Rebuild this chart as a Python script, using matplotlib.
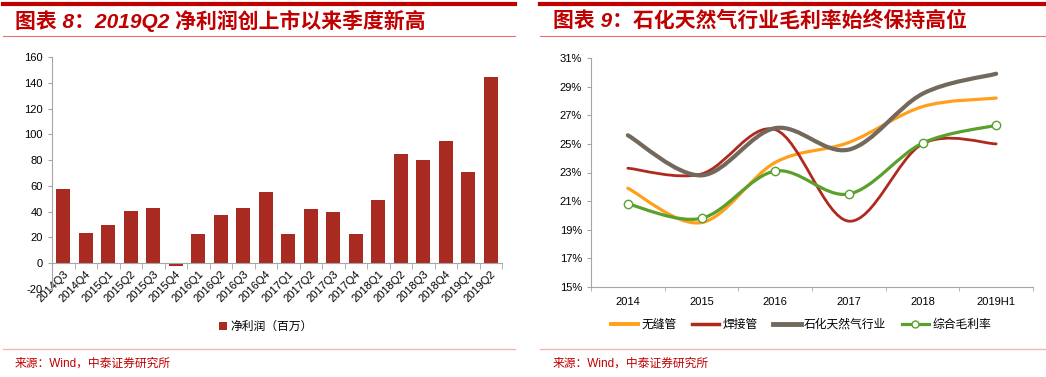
import matplotlib
matplotlib.use("Agg")
import numpy as np
import matplotlib.pyplot as plt
from matplotlib.path import Path
from matplotlib.patches import PathPatch
from matplotlib.lines import Line2D

plt.rcParams['font.family'] = ['Liberation Sans', 'Noto Sans CJK SC', 'DejaVu Sans']
plt.rcParams['axes.unicode_minus'] = False

# ---- data: figure 8 ----
quarters = ["2014Q3", "2014Q4", "2015Q1", "2015Q2", "2015Q3", "2015Q4",
            "2016Q1", "2016Q2", "2016Q3", "2016Q4", "2017Q1", "2017Q2",
            "2017Q3", "2017Q4", "2018Q1", "2018Q2", "2018Q3", "2018Q4",
            "2019Q1", "2019Q2"]
net_profit = [57.2, 23.8, 29.8, 40.9, 42.7, -2.0, 23.0, 37.8, 42.7, 54.9,
              23.0, 41.7, 40.1, 23.0, 49.2, 84.9, 80.3, 95.0, 70.9, 144.5]

# ---- data: figure 9 ----
years = ["2014", "2015", "2016", "2017", "2018", "2019H1"]
seamless = [21.9, 19.5, 23.7, 25.1, 27.6, 28.2]
welded = [23.3, 22.9, 26.0, 19.6, 25.0, 25.0]
industry = [25.6, 22.8, 26.1, 24.6, 28.5, 29.9]
overall = [20.8, 19.8, 23.1, 21.5, 25.05, 26.3]

RED = "#C00000"
BAR = "#A92A21"
AXC = "#A6A6A6"

fig = plt.figure(figsize=(10.46, 3.77), dpi=100)


def px(x, y):
    return x / 1046, 1 - y / 377


# header / footer decorations
for x0, x1 in [(3, 515), (540, 1046)]:
    fig.add_artist(Line2D([px(x0, 0)[0], px(x1, 0)[0]], [px(0, 4)[1]] * 2, color=RED, lw=3))
    fig.add_artist(Line2D([px(x0, 0)[0], px(x1, 0)[0]], [px(0, 36)[1]] * 2, color="#E57373", lw=0.8))
    fig.add_artist(Line2D([px(x0, 0)[0], px(x1, 0)[0]], [px(0, 349)[1]] * 2, color="#F0B8B8", lw=1.0))

fig.text(*px(15, 21), "图表 8：2019Q2 净利润创上市以来季度新高", color=RED, fontsize=15,
         fontweight='bold', fontstyle='italic', va='center', ha='left')
fig.text(*px(553, 21), "图表 9：石化天然气行业毛利率始终保持高位", color=RED, fontsize=15,
         fontweight='bold', fontstyle='italic', va='center', ha='left')
fig.text(*px(15, 364), "来源：Wind，中泰证券研究所", color=RED, fontsize=8.5, va='center', ha='left')
fig.text(*px(553, 364), "来源：Wind，中泰证券研究所", color=RED, fontsize=8.5, va='center', ha='left')

# ---- left chart ----
ax1 = fig.add_axes([52 / 1046, 1 - 289 / 377, 450 / 1046, 232 / 377])
xs = np.arange(len(quarters))
ax1.bar(xs, net_profit, width=0.62, color=BAR, label="净利润（百万）")
ax1.set_xlim(-0.5, len(quarters) - 0.5)
ax1.set_ylim(-20, 160)
ax1.set_yticks(range(-20, 161, 20))
ax1.spines['top'].set_visible(False)
ax1.spines['right'].set_visible(False)
ax1.spines['left'].set_color(AXC)
ax1.spines['bottom'].set_color(AXC)
ax1.spines['bottom'].set_position(('data', 0))
ax1.set_xticks(xs)
ax1.set_xticklabels(quarters, rotation=45, ha='right', rotation_mode='anchor')
ax1.set_xticks(np.arange(-0.5, len(quarters)), minor=True)
ax1.tick_params(axis='x', which='major', length=0, labelsize=8, pad=4)
ax1.tick_params(axis='x', which='minor', length=4, color=AXC)
ax1.tick_params(axis='y', length=3, color=AXC, labelsize=8)
ax1.legend(loc='center', bbox_to_anchor=(0.475, -0.165), frameon=False, fontsize=8.5,
           handlelength=0.7, handleheight=0.7, handletextpad=0.3)

# ---- right chart ----
ax2 = fig.add_axes([591 / 1046, 1 - 287 / 377, 442 / 1046, 229 / 377])
xi = np.arange(len(years))
ax2.set_xlim(-0.5, len(years) - 0.5)
ax2.set_ylim(15, 31)
ax2.set_yticks(range(15, 32, 2))
ax2.set_yticklabels([f"{v}%" for v in range(15, 32, 2)])
ax2.set_xticks(xi)
ax2.set_xticklabels(years)
ax2.set_xticks(np.arange(-0.5, len(years)), minor=True)
ax2.tick_params(axis='x', which='major', length=0, labelsize=8, pad=7)
ax2.tick_params(axis='x', which='minor', length=3, color=AXC)
ax2.tick_params(axis='y', length=3, color=AXC, labelsize=8)
for s in ['top', 'right']:
    ax2.spines[s].set_visible(False)
ax2.spines['left'].set_color(AXC)
ax2.spines['bottom'].set_color(AXC)


def smooth_path(x, y):
    # Excel-like smoothed line drawn as cubic Bezier segments
    p = np.column_stack([x, y]).astype(float)
    ext = np.vstack([p[0], p, p[-1]])
    verts = [p[0]]
    codes = [Path.MOVETO]
    for i in range(len(p) - 1):
        p0, p1, p2, p3 = ext[i], ext[i + 1], ext[i + 2], ext[i + 3]
        c1 = p1 + (p2 - p0) / 6
        c2 = p2 - (p3 - p1) / 6
        verts += [c1, c2, p2]
        codes += [Path.CURVE4] * 3
    return Path(verts, codes)


series = [
    ("无缝管", seamless, "#FF9F1C", 2.3),
    ("焊接管", welded, "#AE2A1E", 2.0),
    ("石化天然气行业", industry, "#73685C", 3.0),
    ("综合毛利率", overall, "#5AA02C", 2.3),
]
handles = []
for name, vals, col, lw in series:
    ax2.add_patch(PathPatch(smooth_path(xi, vals), facecolor='none', edgecolor=col,
                            lw=lw, capstyle='round'))
    if name == "综合毛利率":
        ax2.plot(xi, vals, linestyle='none', marker='o', markersize=6,
                 markerfacecolor='white', markeredgecolor=col, markeredgewidth=1.0, zorder=5)
        handles.append(Line2D([], [], color=col, lw=lw, marker='o', markersize=5,
                              markerfacecolor='white', markeredgecolor=col))
    else:
        handles.append(Line2D([], [], color=col, lw=lw + 0.5))
ax2.legend(handles, [s[0] for s in series], loc='center', bbox_to_anchor=(0.475, -0.165),
           ncol=4, frameon=False, fontsize=8.5, handlelength=2.3, columnspacing=1.3,
           handletextpad=0.3)

fig.savefig("out.png", dpi=100)
